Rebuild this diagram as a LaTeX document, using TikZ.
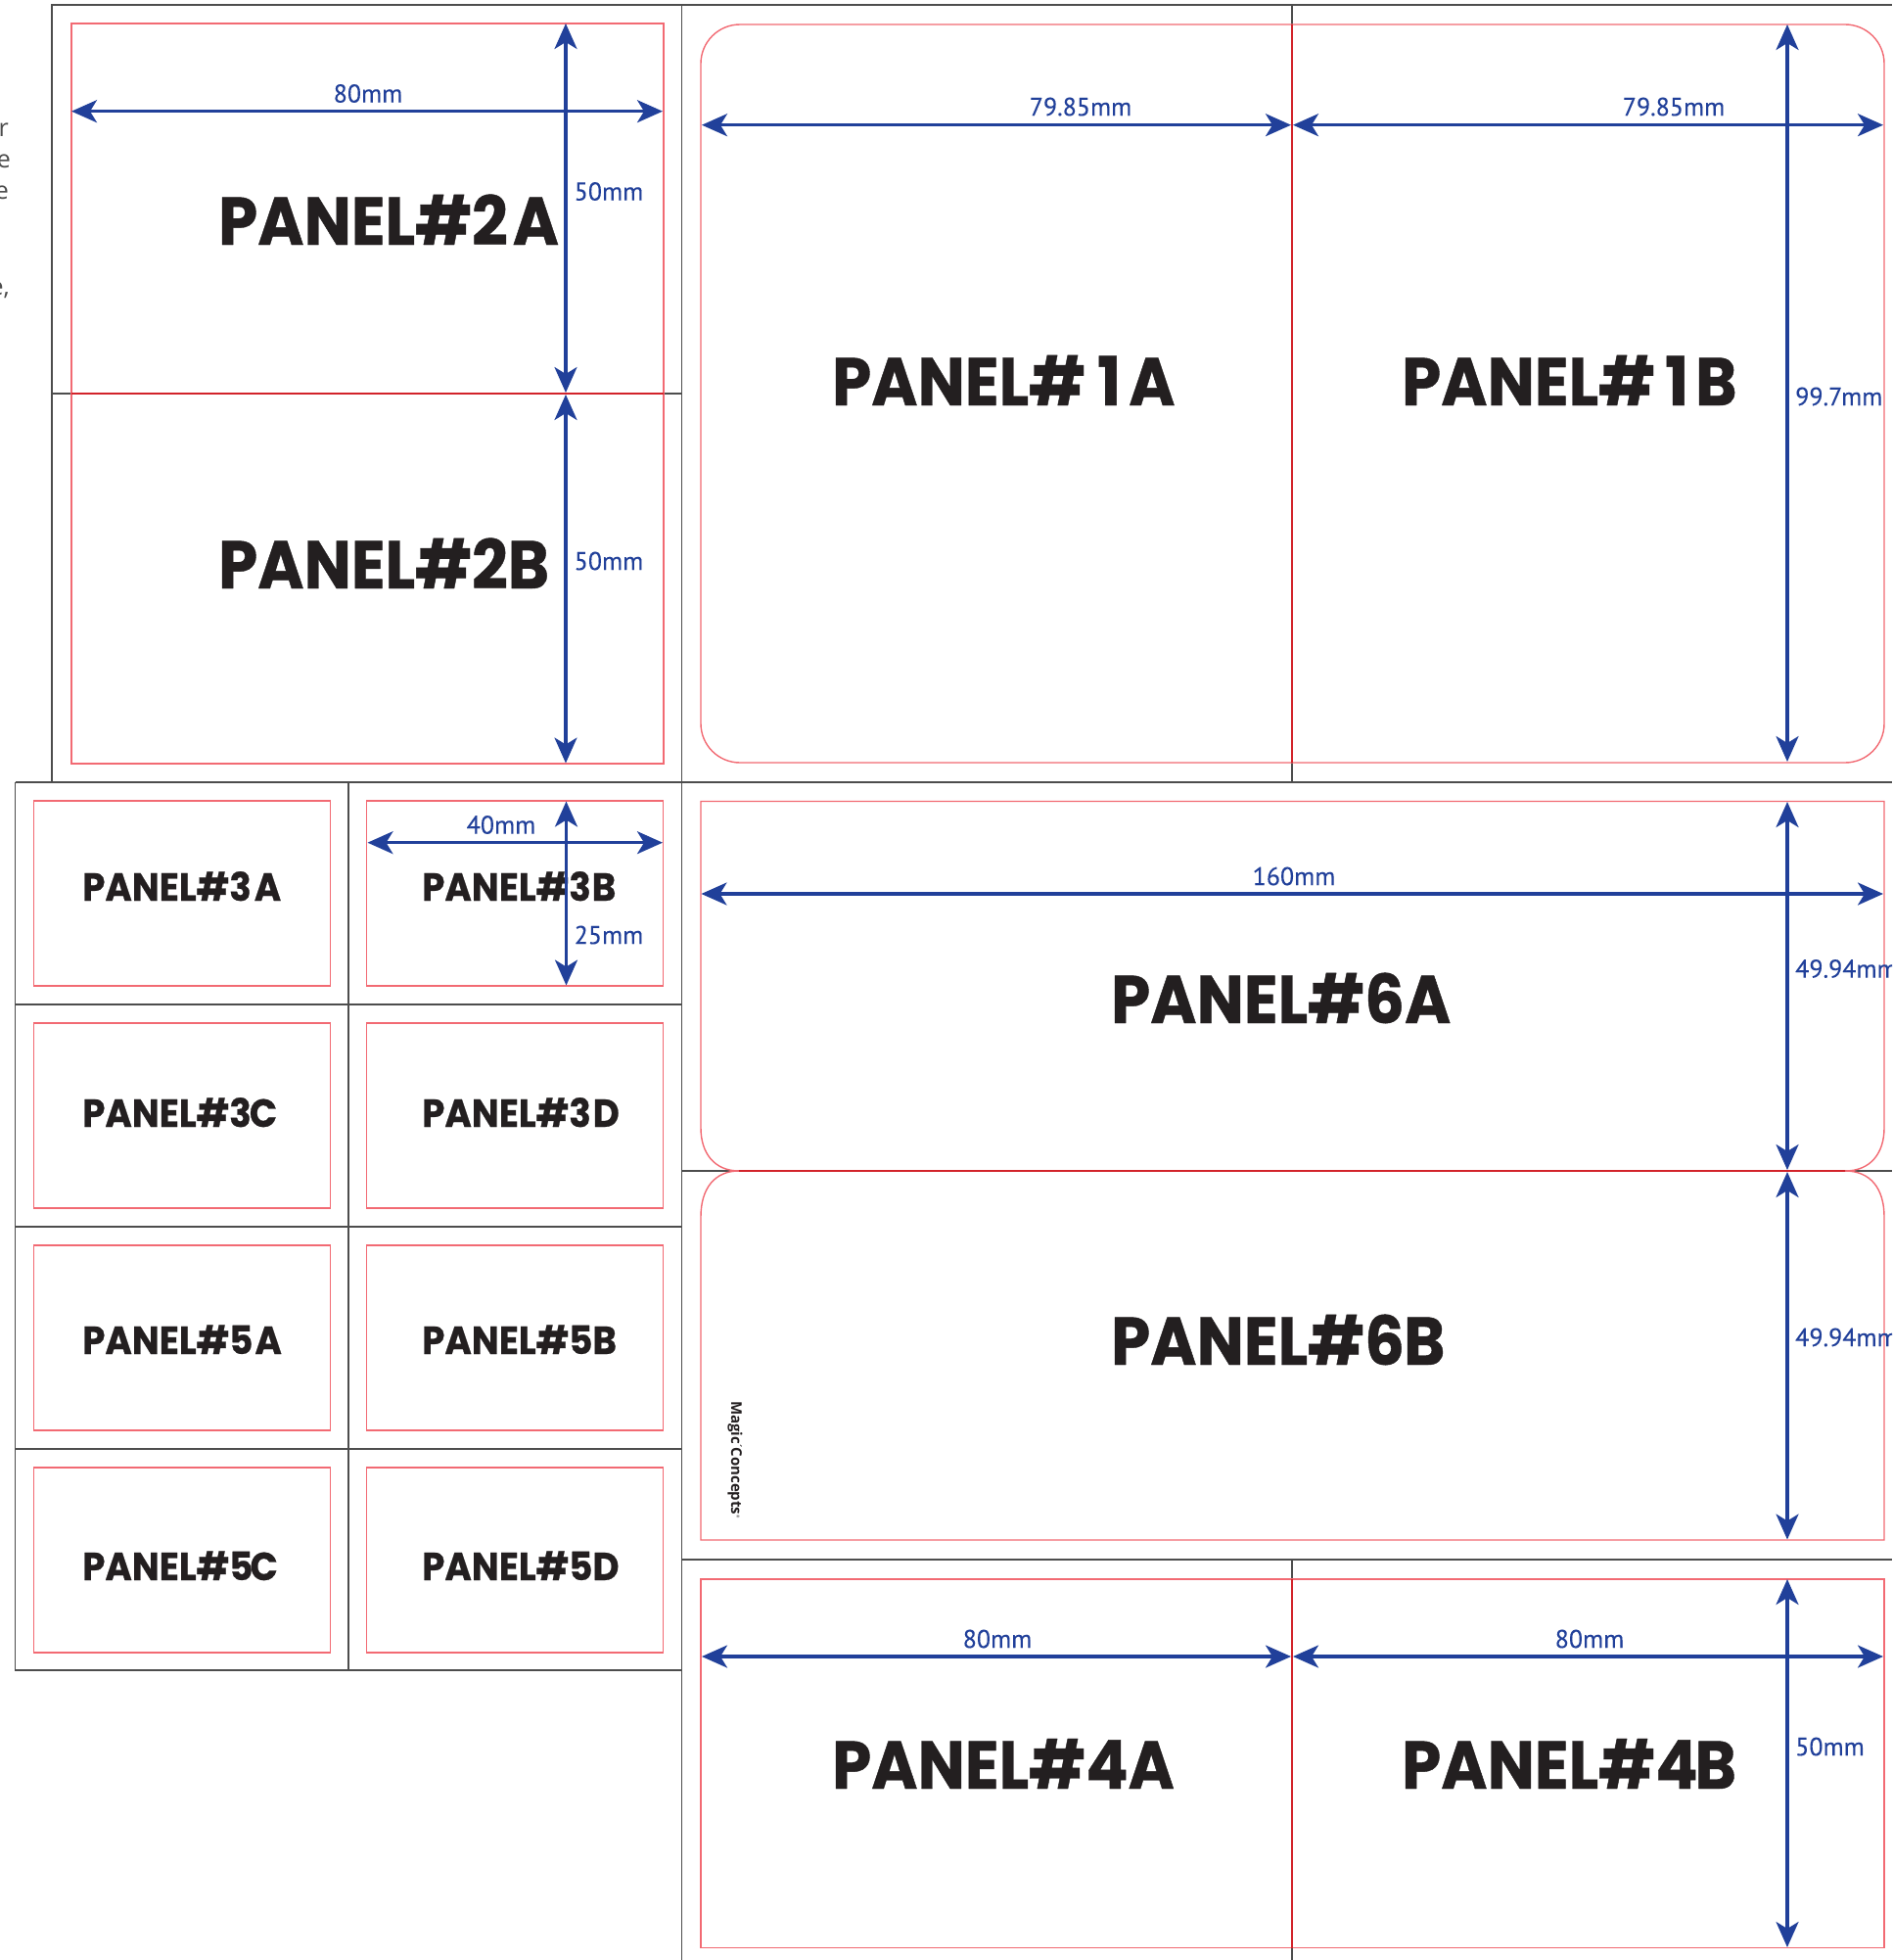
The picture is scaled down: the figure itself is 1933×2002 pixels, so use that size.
\documentclass[tikz,border=0pt]{standalone}
\usepackage{fontspec}
\usetikzlibrary{arrows.meta}
\newfontfamily\panelfont{Poppins}[FakeStretch=0.93,BoldFeatures={FakeBold=0.6}]
\newfontfamily\dimfont{PT Sans}[FakeBold=0.15]
\newfontfamily\sidefont{Open Sans}
\newfontfamily\logofont{Open Sans}
\definecolor{dimblue}{HTML}{21409A}
\definecolor{cutred}{HTML}{F26A73}
\definecolor{foldred}{HTML}{D2232A}
\definecolor{gridgrey}{HTML}{4D4D4D}
\definecolor{paneltxt}{HTML}{231F20}
\tikzset{
  gridline/.style={draw=gridgrey,line width=1.4pt},
  cutline/.style={draw=cutred,line width=1.4pt},
  foldline/.style={draw=foldred,line width=2pt},
  dimline/.style={draw=dimblue,line width=3.1pt,{Stealth[length=26pt,width=23pt,inset=7pt]}-{Stealth[length=26pt,width=23pt,inset=7pt]}},
  dimtext/.style={text=dimblue,font=\dimfont\fontsize{26}{26}\selectfont,inner sep=0pt},
  bigpanel/.style={text=paneltxt,anchor=base west,inner sep=0pt,font=\panelfont\bfseries\fontsize{69}{69}\selectfont},
  smallpanel/.style={text=paneltxt,anchor=base west,inner sep=0pt,font=\panelfont\bfseries\fontsize{40}{40}\selectfont},
  sidetext/.style={text=gridgrey,anchor=base east,inner sep=0pt,font=\sidefont\fontsize{25}{25}\selectfont}
}
\newcommand\dimarrow[5]{\coordinate (#1s) at (#2,#3); \coordinate (#1e) at (#4,#5); \draw[dimline] (#1s) -- (#1e);}
\begin{document}
\begin{tikzpicture}[x=1pt,y=-1pt]
\clip (0,0) rectangle (1933,2002);
\fill[white] (0,0) rectangle (1933,2002);
% side fragments
\node[sidetext] (s1) at (9,139) {r};
\node[sidetext] (s2) at (11,171) {e};
\node[sidetext] (s3) at (9,203) {e};
\node[sidetext] (s4) at (10,301) {e,};
% grid
\draw[gridline] (53,799) -- (53,5) -- (1933,5);
\draw[gridline] (696.5,5) -- (696.5,2002);
\draw[gridline] (1320,5) -- (1320,799);
\draw[gridline] (53,402) -- (696.5,402);
\draw[gridline] (15.5,799) -- (1933,799);
\draw[gridline] (15.5,799) -- (15.5,1706) -- (696.5,1706);
\draw[gridline] (356,799) -- (356,1706);
\draw[gridline] (15.5,1026) -- (696.5,1026);
\draw[gridline] (15.5,1253) -- (696.5,1253);
\draw[gridline] (15.5,1480) -- (696.5,1480);
\draw[gridline] (696.5,1196) -- (1933,1196);
\draw[gridline] (696.5,1593) -- (1933,1593);
\draw[gridline] (1320,1593) -- (1320,2002);
% panel 2
\draw[cutline] (73,24) rectangle (678,780);
\draw[foldline] (73,402) -- (678,402);
% panel 1
\draw[cutline,rounded corners=40pt] (716,25) rectangle (1925,779);
\draw[foldline,line width=1.4pt] (1320,25) -- (1320,779);
% panels 3 and 5
\foreach \t/\b in {818/1007,1045/1234,1272/1461,1499/1688}{
  \draw[cutline] (34.5,\t) rectangle (337.5,\b);
  \draw[cutline] (374.7,\t) rectangle (677.7,\b);
}
% panel 6
\draw[cutline] (755,1196) .. controls (730,1196) and (716,1178) .. (716,1152) -- (716,818.5) -- (1925,818.5) -- (1925,1152) .. controls (1925,1178) and (1911,1196) .. (1885,1196);
\draw[cutline] (755,1196) .. controls (730,1196) and (716,1214) .. (716,1243) -- (716,1573) -- (1925,1573) -- (1925,1243) .. controls (1925,1214) and (1911,1196) .. (1885,1196);
\draw[foldline] (755,1196) -- (1885,1196);
% panel 4
\draw[cutline] (716,1613) rectangle (1925,1989.5);
\draw[foldline,line width=1.4pt] (1320,1613) -- (1320,1989.5);
% panel titles
\node[bigpanel] (p2a) at (223,250) {PANEL\#2\kern5pt A};
\node[bigpanel] (p2b) at (223,601) {PANEL\#2B};
\node[bigpanel] (p1a) at (850,414) {PANEL\#\kern12pt 1\kern8pt A};
\node[bigpanel] (p1b) at (1432,414) {PANEL\#\kern10pt 1\kern7pt B};
\node[bigpanel] (p6a) at (1135,1045) {PANEL\#6A};
\node[bigpanel] (p6b) at (1135,1394) {PANEL\#6\kern-1pt B};
\node[bigpanel] (p4a) at (850,1827) {PANEL\#4A};
\node[bigpanel] (p4b) at (1432,1827) {PANEL\#4\kern-3pt B};
\node[smallpanel] (p3a) at (84,920) {PANEL\#3\kern3pt A};
\node[smallpanel] (p3b) at (431,920) {PANEL\#3\kern1pt B};
\node[smallpanel] (p3c) at (84,1151) {PANEL\#3\kern-2pt C};
\node[smallpanel] (p3d) at (431,1151) {PANEL\#3\kern2pt D};
\node[smallpanel] (p5a) at (84,1383) {PANEL\#5\kern2pt A};
\node[smallpanel] (p5b) at (431,1383) {PANEL\#5B};
\node[smallpanel] (p5c) at (84,1614) {PANEL\#5\kern-3pt C};
\node[smallpanel] (p5d) at (431,1614) {PANEL\#5D};
% logo
\node[rotate=-90,text=paneltxt,inner sep=0pt,font=\logofont\fontsize{15}{15}\selectfont] (logo) at (751,1491) {\textbf{Magic\kern-1pt\raisebox{.45ex}{\fontsize{9}{9}\selectfont ´}\kern-1pt Concepts}\raisebox{.7ex}{\fontsize{4}{4}\selectfont ®}};
% dimension arrows
\dimarrow{a}{73}{113.7}{677}{113.7}
\dimarrow{b}{578}{24}{578}{401}
\dimarrow{c}{578}{403}{578}{779.5}
\dimarrow{d}{717}{127.7}{1319}{127.7}
\dimarrow{e}{1321}{127.7}{1924}{127.7}
\dimarrow{f}{1826}{25}{1826}{778}
\dimarrow{g}{375.5}{860.7}{677}{860.7}
\dimarrow{h}{578.5}{818.5}{578.5}{1006.5}
\dimarrow{i}{716.5}{913}{1924}{913}
\dimarrow{j}{1826}{819}{1826}{1195}
\dimarrow{k}{1826}{1197}{1826}{1572.5}
\dimarrow{l}{717}{1692}{1319}{1692}
\dimarrow{m}{1321}{1692}{1924}{1692}
\dimarrow{n}{1826}{1613}{1826}{1989}
% dimension labels
\node[dimtext] (t1) at (376,95.5) {80mm};
\node[dimtext,anchor=west] (t2) at (586.5,195.5) {50mm};
\node[dimtext,anchor=west] (t3) at (586.5,573) {50mm};
\node[dimtext] (t4) at (1104,109) {79.85mm};
\node[dimtext] (t5) at (1710,109) {79.85mm};
\node[dimtext,anchor=west] (t6) at (1834,405) {99.7mm};
\node[dimtext] (t7) at (512,842.5) {40mm};
\node[dimtext,anchor=west] (t8) at (586.5,955) {25mm};
\node[dimtext] (t9) at (1322,895) {160mm};
\node[dimtext,anchor=west] (t10) at (1834,989.5) {49.94mm};
\node[dimtext,anchor=west] (t11) at (1834,1366) {49.94mm};
\node[dimtext] (t12) at (1019,1674) {80mm};
\node[dimtext] (t13) at (1624,1674) {80mm};
\node[dimtext,anchor=west] (t14) at (1834,1784) {50mm};
\end{tikzpicture}
\end{document}
